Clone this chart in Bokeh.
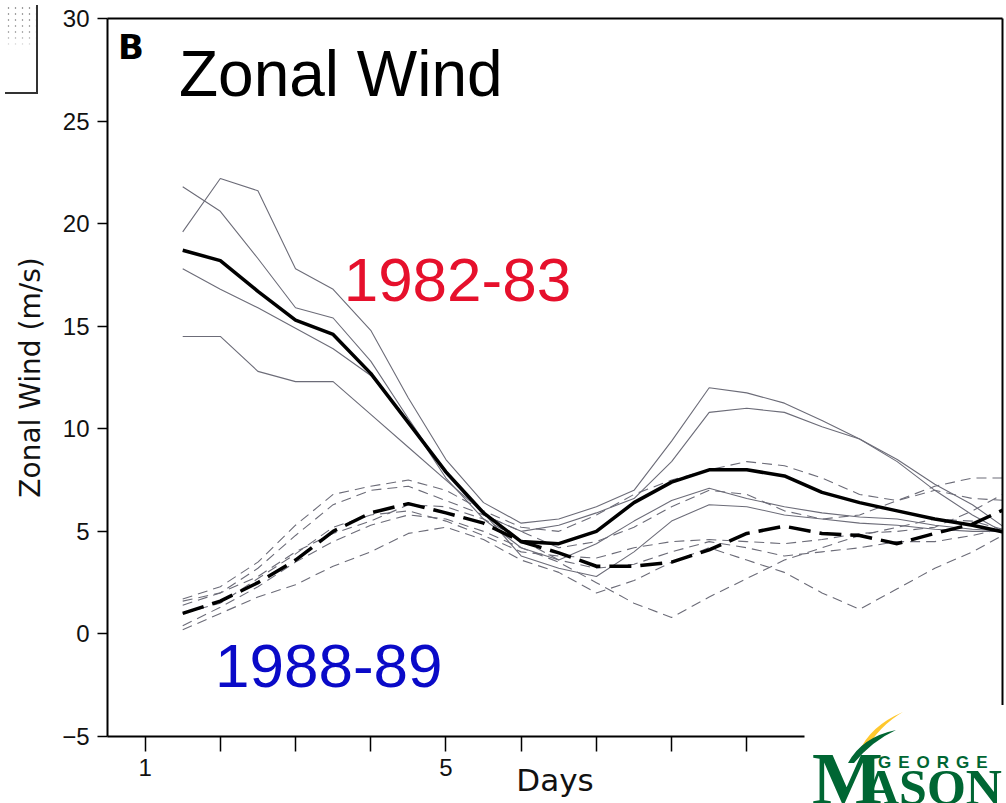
from bokeh.plotting import figure
from bokeh.models import Range1d, LinearAxis, FixedTicker, Label, Div
from bokeh.embed import file_html
from bokeh.resources import INLINE

# ---------------- data ----------------
days = [1.5, 2, 2.5, 3, 3.5, 4, 4.5, 5, 5.5, 6, 6.5, 7, 7.5, 8, 8.5, 9, 9.5, 10, 10.5, 11, 11.5, 12, 12.5]

# 1982-83 ensemble mean (thick solid)
mean_8283 = [18.7, 18.2, 16.7, 15.3, 14.6, 12.7, 10.3, 7.9, 5.9, 4.5, 4.4, 5.0, 6.4, 7.4, 8.0, 8.0, 7.7, 6.9, 6.4, 6.0, 5.6, 5.3, 4.9]
# 1988-89 ensemble mean (thick dashed)
mean_8889 = [1.0, 1.6, 2.5, 3.6, 5.0, 5.9, 6.35, 5.9, 5.4, 4.5, 3.95, 3.3, 3.3, 3.5, 4.1, 4.9, 5.25, 4.9, 4.8, 4.4, 4.9, 5.35, 6.2]

# 1982-83 members (thin solid)
s1 = [19.6, 22.2, 21.6, 17.8, 16.8, 14.8, 11.5, 8.5, 6.4, 5.4, 5.6, 6.2, 7.0, 9.4, 12.0, 11.75, 11.25, 10.4, 9.5, 8.4, 7.0, 5.8, 4.8]
s2 = [21.8, 20.6, 18.3, 15.9, 15.4, 13.3, 10.5, 7.8, 5.8, 5.0, 5.3, 5.9, 6.6, 8.4, 10.8, 11.0, 10.8, 10.1, 9.5, 8.5, 7.3, 6.3, 5.0]
s3 = [17.8, 16.8, 15.9, 14.9, 13.9, 12.6, 10.4, 7.6, 5.6, 4.2, 3.6, 4.4, 5.5, 6.5, 7.1, 6.6, 6.2, 5.9, 5.7, 5.6, 5.3, 5.1, 5.0]
s4 = [14.5, 14.5, 12.8, 12.3, 12.3, 10.7, 9.1, 7.5, 5.9, 3.8, 3.2, 2.8, 4.0, 5.5, 6.3, 6.2, 5.8, 5.6, 5.4, 5.3, 5.1, 5.0, 5.0]
members_8283 = [s1, s2, s3, s4]

# 1988-89 members (thin dashed)
d1 = [1.7, 2.3, 3.5, 5.3, 6.8, 7.2, 7.5, 7.0, 6.0, 5.2, 5.0, 5.8, 6.8, 7.5, 8.0, 8.4, 8.2, 7.6, 6.8, 6.5, 7.2, 7.6, 7.6]
d2 = [1.4, 2.0, 3.2, 4.8, 6.3, 7.0, 7.2, 6.5, 5.8, 5.0, 4.2, 4.5, 5.2, 6.2, 7.0, 6.8, 6.0, 5.6, 5.8, 6.5, 7.0, 6.6, 6.5]
d3 = [0.4, 1.3, 2.3, 3.5, 4.5, 5.3, 5.8, 5.6, 5.0, 4.2, 3.5, 2.5, 1.5, 0.8, 1.8, 2.7, 3.6, 4.2, 4.8, 5.2, 5.6, 5.5, 5.0]
d4 = [0.2, 1.0, 1.8, 2.4, 3.3, 4.0, 4.9, 5.2, 4.6, 3.6, 3.0, 2.0, 2.6, 3.5, 4.2, 3.6, 3.0, 2.0, 1.2, 2.2, 3.2, 4.0, 5.0]
d5 = [1.0, 1.5, 2.7, 3.9, 5.2, 5.8, 6.0, 5.5, 4.8, 4.0, 3.8, 3.7, 4.2, 4.5, 4.6, 4.5, 4.4, 4.6, 4.9, 5.0, 5.2, 6.0, 7.0]
d6 = [1.6, 2.0, 2.8, 4.0, 4.9, 5.5, 6.3, 6.2, 5.6, 4.6, 3.6, 3.2, 3.4, 4.0, 4.5, 4.2, 3.8, 4.0, 4.2, 4.5, 4.5, 4.8, 5.2]
members_8889 = [d1, d2, d3, d4, d5, d6]

x_ticks = [1, 2, 3, 4, 5, 6, 7, 8, 9]
x_tick_labels = {1: "1", 5: "5"}
y_ticks = [-5, 0, 5, 10, 15, 20, 25, 30]

# ---------------- figure ----------------
p = figure(frame_width=895, frame_height=718,
           x_range=Range1d(0.5, 12.4), y_range=Range1d(-5, 30),
           x_axis_location=None,
           output_backend="svg", toolbar_location=None,
           min_border_left=107, min_border_right=4, min_border_top=18, min_border_bottom=67)
p.outline_line_color = None
p.xgrid.grid_line_color = None
p.ygrid.grid_line_color = None
p.background_fill_color = "white"
p.border_fill_color = "white"

FONT = "Liberation Sans"

xa = LinearAxis(
    bounds=(0.5, 9.77),
    ticker=FixedTicker(ticks=x_ticks),
    major_label_overrides={t: x_tick_labels.get(t, "") for t in x_ticks},
    axis_line_width=2, major_tick_out=15, major_tick_in=0, major_tick_line_width=1.5,
    minor_tick_line_color=None,
    major_label_text_font=FONT, major_label_text_font_size="24px",
    major_label_text_color="#111111", major_label_standoff=7,
    axis_label="Days", axis_label_text_font="DejaVu Sans", axis_label_text_font_size="31px",
    axis_label_text_font_style="normal", axis_label_text_color="#111111",
    axis_label_standoff=-17)
p.add_layout(xa, "below")

ya = p.left[0]
ya.ticker = FixedTicker(ticks=y_ticks)
ya.major_label_overrides = {-5: "\u22125"}
ya.axis_line_width = 2
ya.major_tick_out = 10
ya.major_tick_in = 0
ya.major_tick_line_width = 1.5
ya.minor_tick_line_color = None
ya.major_label_text_font = FONT
ya.major_label_text_font_size = "24px"
ya.major_label_text_color = "#111111"
ya.major_label_standoff = 8
ya.axis_label = "Zonal Wind (m/s)"
ya.axis_label_text_font = "DejaVu Sans"
ya.axis_label_text_font_size = "28px"
ya.axis_label_text_font_style = "normal"
ya.axis_label_text_color = "#111111"
ya.axis_label_standoff = 12

top_axis = LinearAxis(ticker=FixedTicker(ticks=[]), axis_line_width=2,
                      major_label_text_font_size="0px", minor_tick_line_color=None)
p.add_layout(top_axis, "above")
right_axis = LinearAxis(ticker=FixedTicker(ticks=[]), axis_line_width=2, bounds=(-3.7, 30),
                        major_label_text_font_size="0px", minor_tick_line_color=None)
p.add_layout(right_axis, "right")

# ---------------- lines ----------------
for m in members_8889:
    p.line(days, m, line_color="#6c6c78", line_width=1.1, line_dash="10 6")
for m in members_8283:
    p.line(days, m, line_color="#6c6c78", line_width=1.1)
p.line(days, mean_8889, line_color="black", line_width=3.5, line_dash="22 9")
p.line(days, mean_8283, line_color="black", line_width=3.5)

# ---------------- texts ----------------
p.add_layout(Label(x=0.64, y=28.6, text="B", text_font="DejaVu Sans", text_font_size="34px",
                   text_font_style="bold", text_color="black", text_baseline="alphabetic"))
p.add_layout(Label(x=1.45, y=27.31, text="Zonal Wind", text_font=FONT, text_font_size="64px",
                   text_color="black", text_baseline="alphabetic"))
p.add_layout(Label(x=3.64, y=17.23, text="1982-83", text_font=FONT, text_font_size="62px",
                   text_color="#e6102c", text_baseline="alphabetic"))
p.add_layout(Label(x=1.93, y=-1.54, text="1988-89", text_font=FONT, text_font_size="62px",
                   text_color="#0a0ac8", text_baseline="alphabetic"))

# ---------------- George Mason logo (bottom-right) ----------------
SERIF = "font-family:'Liberation Serif','DejaVu Serif',serif;font-weight:bold;"
SANS = "font-family:'Liberation Sans',Arial,sans-serif;font-weight:bold;"
logo_svg = (
    '<svg xmlns="http://www.w3.org/2000/svg" width="201" height="103" style="display:block">'
    '<rect x="0" y="0" width="201" height="103" fill="white"/>'
    '<path d="M49,47 Q60,21 93,7 Q70,20 54,47 Z" fill="#ffc82e"/>'
    '<path d="M38,58 Q52,32 86,25 Q62,36 44,58 Z" fill="#006633"/>'
    '<text style="fill:#006633">'
    '<tspan x="68" y="63" style="' + SANS + 'font-size:17px;letter-spacing:7px">GEORGE</tspan> '
    '<tspan x="2" y="99" style="' + SERIF + 'font-size:75px">M</tspan>'
    '<tspan x="53" y="99" style="' + SERIF + 'font-size:50px">ASON</tspan>'
    '</text>'
    '</svg>'
)
logo = Div(text=logo_svg, width=201, height=103,
           styles={"position": "absolute", "left": "805px", "top": "700px", "z-index": "10"})

# fragment of the neighbouring panel (top-left corner)
frag = Div(text="", width=33, height=89,
           styles={"position": "absolute", "left": "0px", "top": "0px", "z-index": "10",
                   "border-right": "2px solid #333", "border-bottom": "2px solid #333",
                   "background-image": "linear-gradient(to bottom, rgba(255,255,255,0) 0px, "
                                       "rgba(255,255,255,0.2) 28px, #ffffff 45px), "
                                       "radial-gradient(#9a9a9a 0.8px, transparent 1.2px)",
                   "background-size": "100% 100%, 7px 6px",
                   "background-color": "white"})

open("out.html", "w").write(file_html([p, logo, frag], INLINE))
